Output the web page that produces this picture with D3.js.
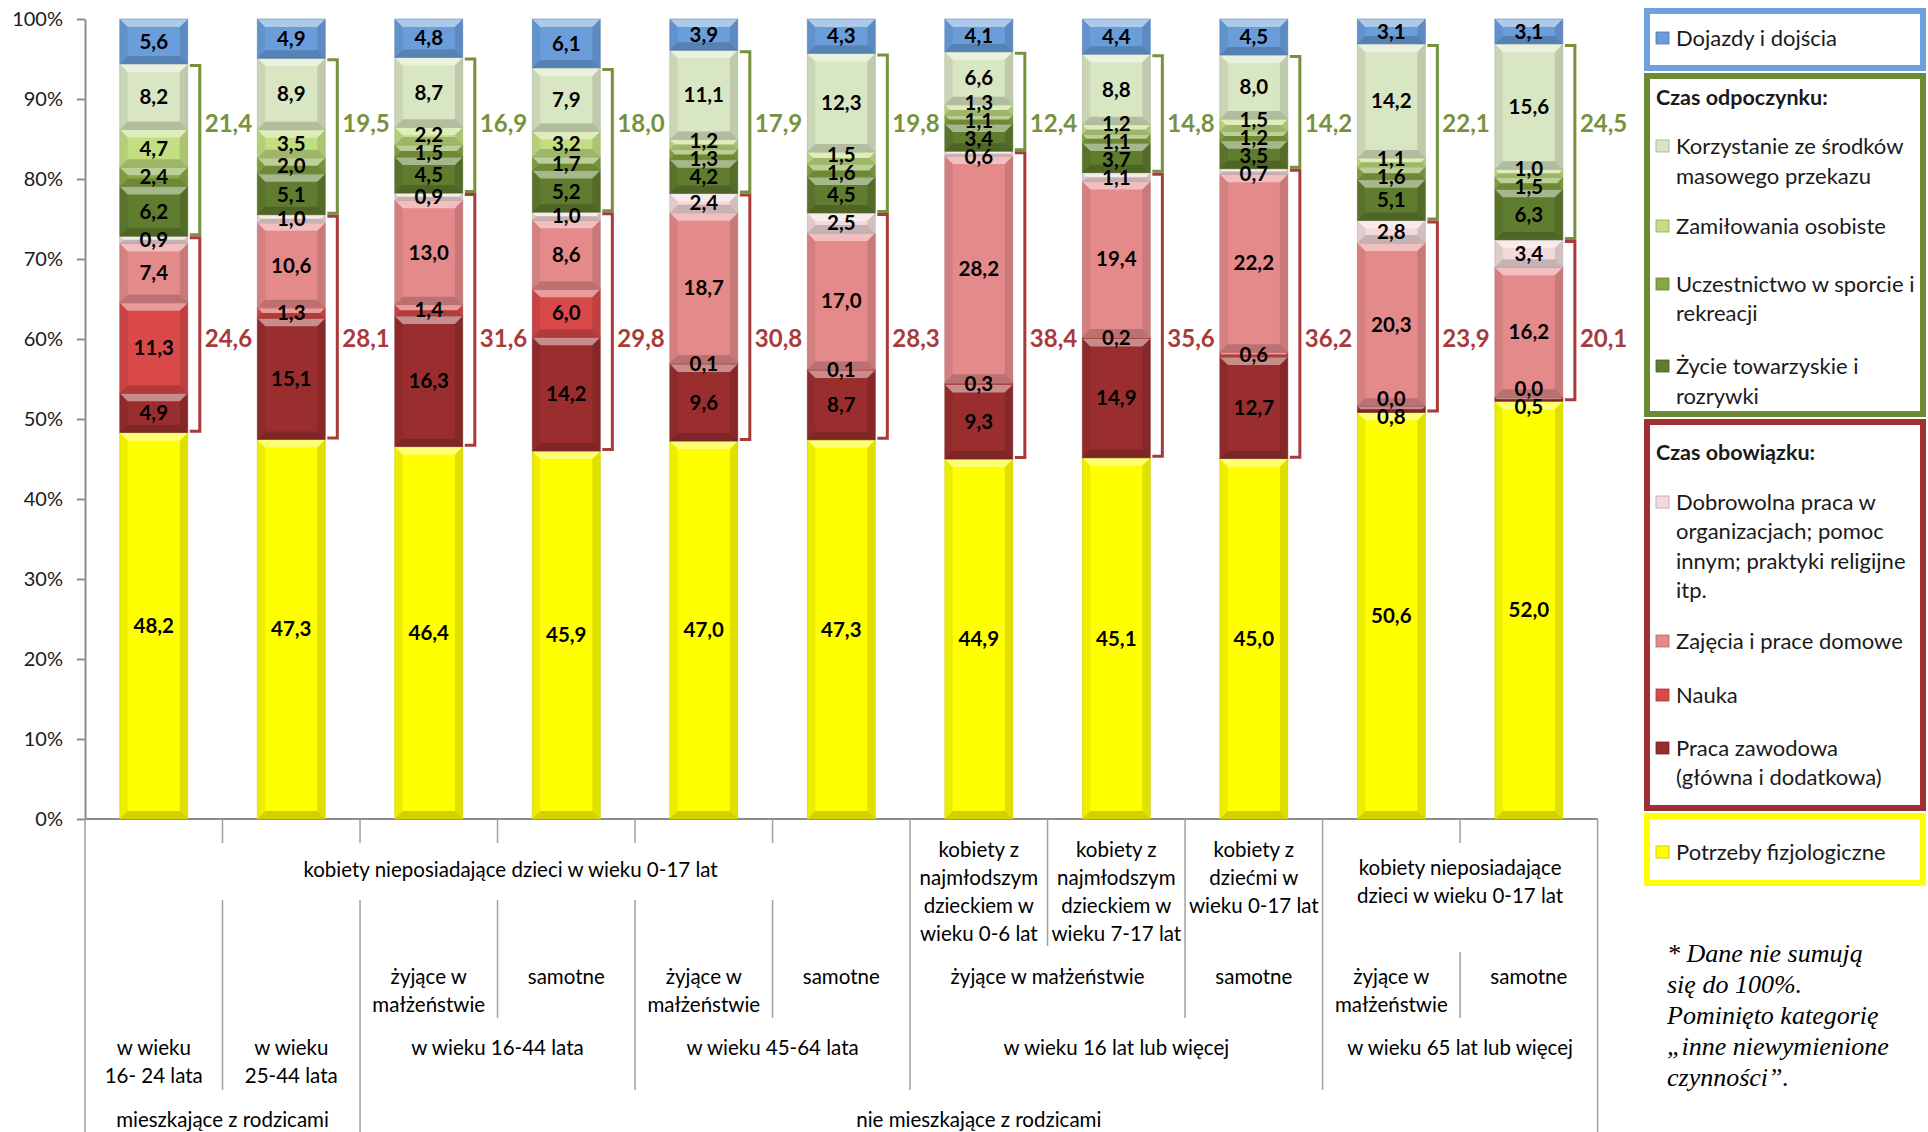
<!DOCTYPE html>
<html><head><meta charset="utf-8">
<script src="https://cdn.jsdelivr.net/npm/d3@7"></script>
<style>body{margin:0;background:#fff}svg{display:block;font-family:Lato,"Open Sans",sans-serif}</style>
</head><body>
<svg id="c" width="1928" height="1132"></svg>
<script>
// ---------- DATA ----------
const barIds = d3.range(11);
const potrzeby    = [48.2,47.3,46.4,45.9,47.0,47.3,44.9,45.1,45.0,50.6,52.0];
const praca       = [4.9,15.1,16.3,14.2,9.6,8.7,9.3,14.9,12.7,0.8,0.5];
const nauka       = [11.3,1.3,1.4,6.0,0.1,0.1,0.3,0.2,0.6,0.0,0.0];
const zajecia     = [7.4,10.6,13.0,8.6,18.7,17.0,28.2,19.4,22.2,20.3,16.2];
const dobrowolna  = [0.9,1.0,0.9,1.0,2.4,2.5,0.6,1.1,0.7,2.8,3.4];
const zycie       = [6.2,5.1,4.5,5.2,4.2,4.5,3.4,3.7,3.5,5.1,6.3];
const sport       = [2.4,2.0,1.5,1.7,1.3,1.6,1.1,1.1,1.2,1.6,1.5];
const zamilowania = [4.7,3.5,2.2,3.2,1.2,1.5,1.3,1.2,1.5,1.1,1.0];
const media       = [8.2,8.9,8.7,7.9,11.1,12.3,6.6,8.8,8.0,14.2,15.6];
const dojazdy     = [5.6,4.9,4.8,6.1,3.9,4.3,4.1,4.4,4.5,3.1,3.1];
const sumObowiazek  = [24.6,28.1,31.6,29.8,30.8,28.3,38.4,35.6,36.2,23.9,20.1];
const sumOdpoczynek = [21.4,19.5,16.9,18.0,17.9,19.8,12.4,14.8,14.2,22.1,24.5];
const yTicks = [0,0.1,0.2,0.3,0.4,0.5,0.6,0.7,0.8,0.9,1.0];

const seriesNames = ["Potrzeby fizjologiczne","Praca zawodowa (główna i dodatkowa)","Nauka","Zajęcia i prace domowe",
  "Dobrowolna praca w organizacjach; pomoc innym; praktyki religijne itp.","Życie towarzyskie i rozrywki",
  "Uczestnictwo w sporcie i rekreacji","Zamiłowania osobiste","Korzystanie ze środków masowego przekazu","Dojazdy i dojścia"];
const seriesColors = ["#ffff00","#9a2e2e","#d9494a","#e58a8a","#f2dada","#607c2e","#86a842","#c3de82","#d9e6c3","#6a9edb"];

// category axis labels (levels, top to bottom)
const lvlType = [
  {from:0,to:5,lines:["kobiety nieposiadające dzieci w wieku 0-17 lat"]},
  {from:6,to:6,lines:["kobiety z","najmłodszym","dzieckiem w","wieku 0-6 lat"]},
  {from:7,to:7,lines:["kobiety z","najmłodszym","dzieckiem w","wieku 7-17 lat"]},
  {from:8,to:8,lines:["kobiety z","dziećmi w","wieku 0-17 lat"]},
  {from:9,to:10,lines:["kobiety nieposiadające","dzieci w wieku 0-17 lat"]}
];
const lvlStatus = [
  {from:2,to:2,lines:["żyjące w","małżeństwie"]},{from:3,to:3,lines:["samotne"]},
  {from:4,to:4,lines:["żyjące w","małżeństwie"]},{from:5,to:5,lines:["samotne"]},
  {from:6,to:7,lines:["żyjące w małżeństwie"]},{from:8,to:8,lines:["samotne"]},
  {from:9,to:9,lines:["żyjące w","małżeństwie"]},{from:10,to:10,lines:["samotne"]}
];
const lvlAge = [
  {from:0,to:0,lines:["w wieku","16- 24 lata"]},{from:1,to:1,lines:["w wieku","25-44 lata"]},
  {from:2,to:3,lines:["w wieku 16-44 lata"]},{from:4,to:5,lines:["w wieku 45-64 lata"]},
  {from:6,to:8,lines:["w wieku 16 lat lub więcej"]},{from:9,to:10,lines:["w wieku 65 lat lub więcej"]}
];
const lvlHome = [
  {from:0,to:1,lines:["mieszkające z rodzicami"]},{from:2,to:10,lines:["nie mieszkające z rodzicami"]}
];
const footnote = ["* Dane nie sumują","się do 100%.","Pominięto kategorię","„inne niewymienione","czynności”."];

// ---------- SCALES ----------
const svg = d3.select("#c");
const plot = {left:85, right:1597.6, top:19, bottom:819};
const x = d3.scaleBand().domain(barIds).range([plot.left, plot.right]).paddingInner(0.505).paddingOuter(0.2525);
const y = d3.scaleLinear().domain([0,1]).range([plot.bottom, plot.top]);
const bw = x.bandwidth();
const step = x.step();
const cx = i => x(i) + bw/2;
const bx = k => plot.left + k*step; // band boundaries

const seriesValues = [potrzeby, praca, nauka, zajecia, dobrowolna, zycie, sport, zamilowania, media, dojazdy];
const keys = seriesValues.map((_,k)=>"s"+k);
const rows = barIds.map(i => { const o={id:i}; seriesValues.forEach((a,k)=>o["s"+k]=a[i]); return o; });
const stacked = d3.stack().keys(keys).offset(d3.stackOffsetExpand)(rows);

const fmt = v => d3.format(".1f")(v).replace(".", ",");

// ---------- AXES ----------
const yAxis = svg.append("g").attr("transform",`translate(${plot.left},0)`)
  .call(d3.axisLeft(y).tickValues(yTicks).tickFormat(d3.format(".0%")).tickSize(8).tickSizeOuter(0).tickPadding(14));
yAxis.select(".domain").attr("stroke","#8c8c8c").attr("stroke-width",2);
yAxis.selectAll(".tick line").attr("stroke","#8c8c8c").attr("stroke-width",2);
yAxis.selectAll(".tick text").attr("font-size",20).attr("fill","#1a1a1a").attr("font-family","Lato");

// x axis line
svg.append("line").attr("x1",plot.left).attr("x2",plot.right).attr("y1",plot.bottom).attr("y2",plot.bottom)
  .attr("stroke","#8c8c8c").attr("stroke-width",2);

// ---------- BARS ----------
const gBars = svg.append("g");
stacked.forEach((layer,k)=>{
  const col = seriesColors[k];
  layer.forEach((d,i)=>{
    const x0 = x(i), w = bw, y0 = y(d[1]), y1 = y(d[0]), h = y1 - y0;
    if (h <= 0.05) return;
    const g = gBars.append("g");
    g.append("rect").attr("x",x0).attr("y",y0).attr("width",w).attr("height",h)
      .attr("fill",col);
    const b = Math.min(8, h/2), x1 = x0 + w;
    const poly = (pts, fill, op) => g.append("polygon").attr("points",pts.map(p=>p.join(",")).join(" "))
      .attr("fill",fill).attr("fill-opacity",op);
    poly([[x0,y0],[x1,y0],[x1-b,y0+b],[x0+b,y0+b]], "#ffffff", 0.45);
    poly([[x0,y1],[x1,y1],[x1-b,y1-b],[x0+b,y1-b]], "#000000", 0.18);
    poly([[x0,y0],[x0+b,y0+b],[x0+b,y1-b],[x0,y1]], "#000000", 0.07);
    poly([[x1,y0],[x1-b,y0+b],[x1-b,y1-b],[x1,y1]], "#000000", 0.12);
    g.append("rect").attr("x",x0).attr("y",y0).attr("width",w).attr("height",h)
      .attr("fill","none").attr("stroke",d3.color(col).darker(0.7)).attr("stroke-opacity",0.6).attr("stroke-width",0.8);
  });
});

// ---------- VALUE LABELS ----------
const gLab = svg.append("g").attr("font-weight","bold").attr("font-size",20.5).attr("text-anchor","middle").attr("fill","#000");
const GAP = 18;
barIds.forEach(i=>{
  const labs = stacked.map((layer,k)=>({k, v:seriesValues[k][i], yy: y((layer[i][0]+layer[i][1])/2)}));
  for (let pass=0; pass<30; pass++){
    for (let j=1;j<labs.length;j++){
      const gap = labs[j-1].yy - labs[j].yy;
      if (gap < GAP){
        const o = (GAP - gap)/2;
        labs[j-1].yy += o; labs[j].yy -= o;
      }
    }
  }
  labs.forEach(l=>{
    gLab.append("text").attr("x",cx(i)).attr("y",l.yy).attr("dy","0.35em").text(fmt(l.v));
  });
});

// ---------- BRACKETS ----------
const green = "#76923c", red = "#a83a3a";
const gBr = svg.append("g").attr("fill","none").attr("stroke-width",3);
barIds.forEach(i=>{
  const xr = x(i) + bw;
  const oTop = y(stacked[8][i][1]) + 1.5, oBot = y(stacked[5][i][0]) - 1.5;
  const rTop = y(stacked[4][i][1]) + 1.5, rBot = y(stacked[1][i][0]) - 1.5;
  gBr.append("path").attr("d",`M${xr+2},${oTop}H${xr+12}V${oBot}H${xr+2}`).attr("stroke",green);
  gBr.append("path").attr("d",`M${xr+2},${rTop}H${xr+12}V${rBot}H${xr+2}`).attr("stroke",red);
  svg.append("text").attr("x",xr+17).attr("y",y(0.869)).attr("dy","0.35em").attr("font-weight","bold")
    .attr("font-size",24).attr("fill",green).text(fmt(sumOdpoczynek[i]));
  svg.append("text").attr("x",xr+17).attr("y",y(0.60)).attr("dy","0.35em").attr("font-weight","bold")
    .attr("font-size",24).attr("fill",red).text(fmt(sumObowiazek[i]));
});

// ---------- CATEGORY TABLE ----------
const gT = svg.append("g").attr("stroke","#a0a0a0").attr("stroke-width",1.5);
const vlines = [
  [0,819,1132],[1,819,843],[1,900,1090],[2,819,843],[2,900,1132],[3,819,843],[3,900,1018],
  [4,819,843],[4,900,1090],[5,819,843],[5,900,1018],[6,819,1090],[7,819,946],[8,819,1018],
  [9,819,1090],[10,819,843],[10,952,1018],[11,819,1132]
];
vlines.forEach(([k,a,b])=>gT.append("line").attr("x1",bx(k)).attr("x2",bx(k)).attr("y1",a).attr("y2",b));

const gC = svg.append("g").attr("font-size",20.5).attr("text-anchor","middle").attr("fill","#000");
function drawLevel(level, yFirst, lh){
  level.forEach(c=>{
    const xc = (cx(c.from)+cx(c.to))/2 + (c.from===0 && c.to===5 ? 13 : 0);
    const y0 = (typeof yFirst === "function") ? yFirst(c) : yFirst;
    c.lines.forEach((t,j)=>gC.append("text").attr("x",xc).attr("y",y0 + j*lh).attr("dy","0.35em").text(t));
  });
}
drawLevel(lvlType, c => c.lines.length===1 ? 870 : (c.lines.length===2 ? 868 : 850), 28);
drawLevel(lvlStatus, 977, 27.5);
drawLevel(lvlAge, 1048, 28);
drawLevel(lvlHome, 1120, 28);

// ---------- LEGEND ----------
const gL = svg.append("g").attr("font-size",22).attr("fill","#1a1a1a");
const boxes = [
  {y0:8,y1:71,color:"#6fa1de"},
  {y0:73,y1:417,color:"#6c8a33"},
  {y0:419,y1:811,color:"#9e3034"},
  {y0:813,y1:886,color:"#ffff00"}
];
boxes.forEach(b=>gL.append("rect").attr("x",1644+3).attr("y",b.y0+3).attr("width",1926-1644-6).attr("height",b.y1-b.y0-6)
  .attr("fill","#fff").attr("stroke",b.color).attr("stroke-width",6));
const legendItems = [
  {k:9, lines:["Dojazdy i dojścia"], ys:[38]},
  {head:"Czas odpoczynku:", y:97},
  {k:8, lines:["Korzystanie ze środków","masowego przekazu"], ys:[146,176]},
  {k:7, lines:["Zamiłowania osobiste"], ys:[226]},
  {k:6, lines:["Uczestnictwo w sporcie i","rekreacji"], ys:[284,313]},
  {k:5, lines:["Życie towarzyskie i","rozrywki"], ys:[366,396]},
  {head:"Czas obowiązku:", y:452},
  {k:4, lines:["Dobrowolna praca w","organizacjach; pomoc","innym; praktyki  religijne","itp."], ys:[502,531,561,590]},
  {k:3, lines:["Zajęcia i prace domowe"], ys:[641]},
  {k:2, lines:["Nauka"], ys:[695]},
  {k:1, lines:["Praca zawodowa","(główna i dodatkowa)"], ys:[748,777]},
  {k:0, lines:["Potrzeby fizjologiczne"], ys:[852]}
];
legendItems.forEach(it=>{
  if (it.head){
    gL.append("text").attr("x",1656).attr("y",it.y).attr("dy","0.35em").attr("font-weight","bold").attr("font-size",21.5).text(it.head);
    return;
  }
  const c = seriesColors[it.k];
  gL.append("rect").attr("x",1656).attr("y",it.ys[0]-6).attr("width",13).attr("height",12)
    .attr("fill",c).attr("stroke",d3.color(c).darker(0.8)).attr("stroke-width",0.8);
  it.lines.forEach((t,j)=>gL.append("text").attr("x",1676).attr("y",it.ys[j]).attr("dy","0.35em").text(t));
});

// footnote
const gF = svg.append("g").attr("font-family","'Liberation Serif','DejaVu Serif',serif").attr("font-style","italic")
  .attr("font-size",26).attr("fill","#000");
footnote.forEach((t,j)=>gF.append("text").attr("x",1667).attr("y",953 + j*31).attr("dy","0.35em").text(t));
</script>
</body></html>
